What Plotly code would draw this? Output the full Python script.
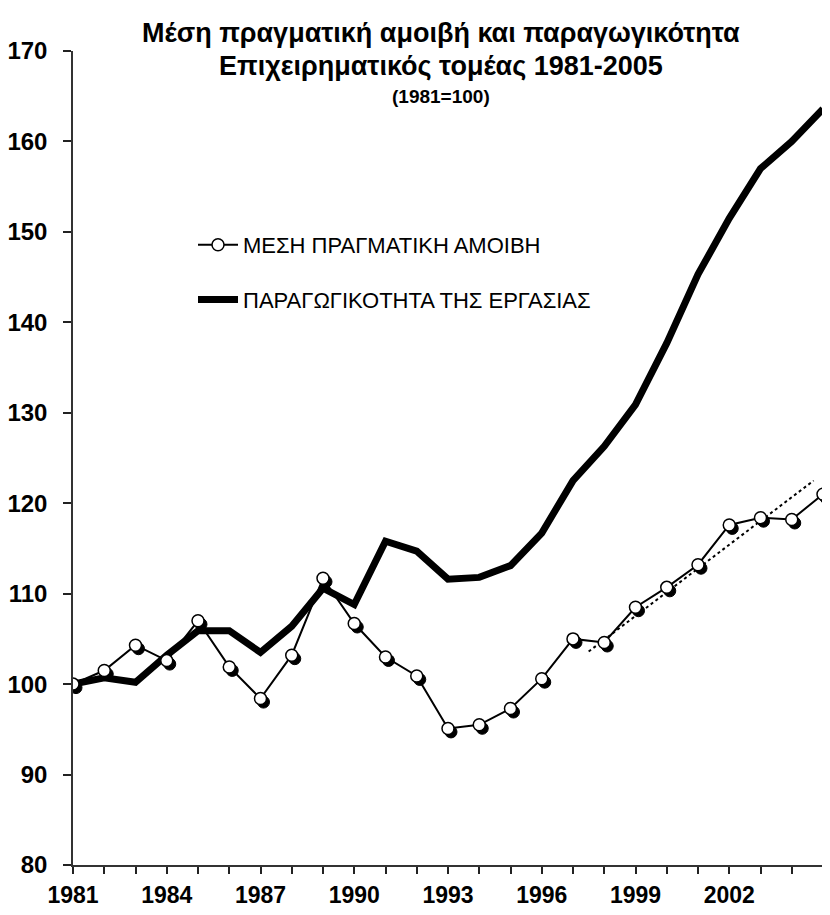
import plotly.graph_objects as go

years = list(range(1981, 2006))
wage = [100.0, 101.5, 104.3, 102.6, 107.0, 101.9, 98.4, 103.2, 111.7, 106.7,
        103.0, 100.9, 95.1, 95.5, 97.3, 100.6, 105.0, 104.6, 108.5, 110.7,
        113.2, 117.6, 118.4, 118.2, 121.0]
productivity = [100.0, 100.7, 100.2, 103.2, 105.9, 105.9, 103.5, 106.4, 110.6, 108.8,
                115.8, 114.7, 111.6, 111.8, 113.1, 116.7, 122.5, 126.3, 130.9, 137.7,
                145.3, 151.5, 157.0, 160.0, 163.6]
trend_x = [1997.5, 2004.7]
trend_y = [103.6, 122.5]
xtick_vals = [1981, 1984, 1987, 1990, 1993, 1996, 1999, 2002]
xtick_text = ["1981", "1984", "1987", "1990", "1993", "1996", "1999", "2002"]
name_wage = "ΜΕΣΗ ΠΡΑΓΜΑΤΙΚΗ ΑΜΟΙΒΗ"
name_prod = "ΠΑΡΑΓΩΓΙΚΟΤΗΤΑ ΤΗΣ ΕΡΓΑΣΙΑΣ"

NARROW = "Liberation Sans Narrow, Arial Narrow, Liberation Sans, Arial"
WIDE = "Liberation Sans, Arial"

# page body has an 8px default margin: size the figure so it fits the window
OFF = 8
W, H = 830 - OFF, 915 - OFF
L, R, T, B = 73 - OFF, 7, 51 - OFF, 50
xr = [1981, 2005]
yr = [80, 170]
px_per_x = (W - L - R) / (xr[1] - xr[0])
px_per_y = (H - T - B) / (yr[1] - yr[0])
sx = 3 / px_per_x
sy = 3.5 / px_per_y

fig = go.Figure()

fig.add_trace(go.Scatter(
    x=years, y=productivity, mode="lines", name=name_prod,
    line=dict(color="black", width=7), legendgroup="b", legendrank=2,
    xaxis="x", yaxis="y"))
fig.add_trace(go.Scatter(
    x=trend_x, y=trend_y, mode="lines", showlegend=False,
    line=dict(color="black", width=2, dash="dot"),
    xaxis="x", yaxis="y", hoverinfo="skip"))
# shadow markers
fig.add_trace(go.Scatter(
    x=years, y=wage, mode="markers", showlegend=False,
    marker=dict(symbol="circle", size=12, color="black",
                line=dict(color="black", width=1)),
    xaxis="x2", yaxis="y2", hoverinfo="skip"))
fig.add_trace(go.Scatter(
    x=years, y=wage, mode="lines+markers", name=name_wage,
    line=dict(color="black", width=2), legendgroup="a", legendrank=1,
    marker=dict(symbol="circle", size=12, color="white",
                line=dict(color="black", width=1.5)),
    xaxis="x3", yaxis="y3"))

axis_common = dict(showgrid=False, zeroline=False, automargin=False)
fig.update_layout(
    width=W, height=H,
    margin=dict(l=L, r=R, t=T, b=B, autoexpand=False),
    paper_bgcolor="white", plot_bgcolor="white",
    showlegend=True,
    legend=dict(x=0.16, y=0.7875, xanchor="left", yanchor="top",
                font=dict(family=NARROW, size=22, color="black"),
                bgcolor="rgba(0,0,0,0)", traceorder="grouped",
                tracegroupgap=23, itemwidth=40),
    xaxis=dict(range=xr, tickmode="array", tickvals=xtick_vals, ticktext=xtick_text,
               ticks="outside", ticklen=7, tickwidth=1.5, tickcolor="#222",
               showline=True, linecolor="#333", linewidth=1.5,
               tickfont=dict(family=NARROW, size=23, color="black", weight="bold"),
               ticklabelstandoff=2,
               minor=dict(tick0=1981, dtick=1, ticks="outside", ticklen=7,
                          tickwidth=1.5, tickcolor="#222"),
               **axis_common),
    yaxis=dict(range=yr, dtick=10, tick0=80, ticks="outside", ticklen=8,
               tickwidth=1.5, tickcolor="#222",
               showline=True, linecolor="#333", linewidth=1.5,
               tickfont=dict(family=WIDE, size=24, color="black", weight="bold"),
               ticklabelstandoff=11,
               **axis_common),
    xaxis2=dict(range=[xr[0] - sx, xr[1] - sx], overlaying="x", visible=False, **axis_common),
    yaxis2=dict(range=[yr[0] + sy, yr[1] + sy], overlaying="y", visible=False, **axis_common),
    xaxis3=dict(range=xr, overlaying="x", visible=False, **axis_common),
    yaxis3=dict(range=yr, overlaying="y", visible=False, **axis_common),
    annotations=[
        dict(text="Μέση πραγματική αμοιβή και παραγωγικότητα", x=441, y=33,
             xref="paper", yref="paper", showarrow=False,
             font=dict(family=NARROW, size=27, color="black", weight="bold")),
        dict(text="Επιχειρηματικός τομέας 1981-2005", x=441, y=66,
             xref="paper", yref="paper", showarrow=False,
             font=dict(family=NARROW, size=27, color="black", weight="bold")),
        dict(text="(1981=100)", x=441, y=97,
             xref="paper", yref="paper", showarrow=False,
             font=dict(family=NARROW, size=19, color="black", weight="bold")),
    ],
)

# convert annotation window-pixel positions to paper coords
pw = W - L - R
ph = H - T - B
for a in fig.layout.annotations:
    px = a.x - OFF
    py = a.y - OFF
    a.x = (px - L) / pw
    a.y = (H - py - B) / ph
    a.xanchor = "center"
    a.yanchor = "middle"

fig.write_html("out.html")
